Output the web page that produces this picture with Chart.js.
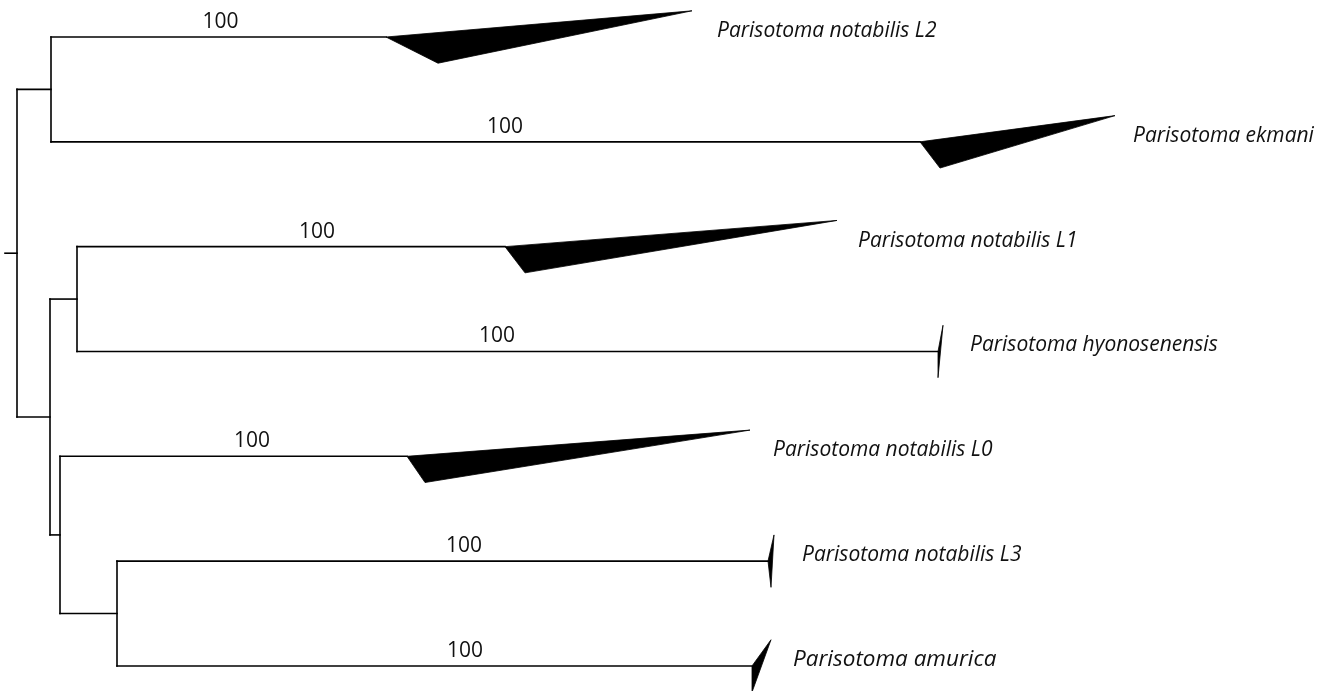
<!DOCTYPE html>
<html><head><meta charset="utf-8">
<script src="https://cdn.jsdelivr.net/npm/chart.js@4.4.1/dist/chart.umd.min.js"></script>
<style>html,body{margin:0;padding:0;background:#fff;}#wrap{width:1327px;height:691px;position:relative;}</style>
</head><body><div id="wrap"><canvas id="c"></canvas></div>
<script>
// ---- data: tips, listed top to bottom ----
const taxa = ['Parisotoma notabilis L2','Parisotoma ekmani','Parisotoma notabilis L1','Parisotoma hyonosenensis','Parisotoma notabilis L0','Parisotoma notabilis L3','Parisotoma amurica'];
const tipParent = ['A','A','C','C','D','E','E'];
const stemEnd  = [0.369,0.903,0.488,0.921,0.390,0.751,0.735]; // depth where the collapsed clade starts
const crownMin = [0.421,0.923,0.508,0.921,0.408,0.754,0.735]; // shallowest tip of the clade
const crownMax = [0.675,1.098,0.820,0.926,0.733,0.757,0.754]; // deepest tip of the clade
const support  = ['100','100','100','100','100','100','100'];
// ---- data: internal nodes ----
const nodeIds    = ['root','A','B','C','D','E'];
const nodeParent = [null,'root','root','B','B','D'];
const nodeDepth  = [0,0.034,0.033,0.060,0.043,0.100];
const rootStemStart = -0.012;

// ---- style / layout ----
const LINE = '#000';
const LW = 1.6;
const TRI_HALF = 0.25;           // half height of collapsed triangles, in rows
const labelGap   = [25,18,21,27,23,28,22];      // px after clade tip
const labelSize  = [21,21,21,21,21,21,22.5];
const supportNudge = [2,19.5,26,-10.5,18.5,21.5,30.5]; // px from branch middle

// ---- build tree geometry ----
const depthOf = {}; nodeIds.forEach((n,i)=>depthOf[n]=nodeDepth[i]);
const yOf = {};
function nodeY(id){
  if (yOf[id]!==undefined) return yOf[id];
  const ys = [];
  tipParent.forEach((p,i)=>{ if(p===id) ys.push(i); });
  nodeParent.forEach((p,i)=>{ if(p===id) ys.push(nodeY(nodeIds[i])); });
  const y = (Math.min(...ys)+Math.max(...ys))/2;
  yOf[id]=y; return y;
}
nodeIds.forEach(nodeY);

const lineDs = (pts)=>({type:'line',data:pts,borderColor:LINE,borderWidth:LW,pointRadius:0,fill:false,tension:0,clip:false,borderCapStyle:'square'});
const datasets = [];
datasets.push(lineDs([{x:rootStemStart,y:yOf.root},{x:0,y:yOf.root}]));
nodeIds.forEach((id,i)=>{
  const ys=[];
  tipParent.forEach((p,k)=>{ if(p===id) ys.push(k); });
  nodeParent.forEach((p,k)=>{ if(p===id) ys.push(yOf[nodeIds[k]]); });
  datasets.push(lineDs([{x:nodeDepth[i],y:Math.min(...ys)},{x:nodeDepth[i],y:Math.max(...ys)}]));
  if (nodeParent[i]) datasets.push(lineDs([{x:depthOf[nodeParent[i]],y:yOf[id]},{x:nodeDepth[i],y:yOf[id]}]));
});
taxa.forEach((t,i)=>{
  datasets.push(lineDs([{x:depthOf[tipParent[i]],y:i},{x:stemEnd[i],y:i}]));
});
taxa.forEach((t,i)=>{
  datasets.push({type:'scatter',polygon:true,data:[{x:stemEnd[i],y:i},{x:crownMax[i],y:i-TRI_HALF},{x:crownMin[i],y:i+TRI_HALF}],pointRadius:0,showLine:false,clip:false});
});

const polyPlugin = {
  id:'poly',
  afterDatasetsDraw(chart){
    const ctx=chart.ctx;
    chart.data.datasets.forEach((ds,i)=>{
      if(!ds.polygon) return;
      const pts=chart.getDatasetMeta(i).data;
      ctx.save();
      ctx.beginPath();
      pts.forEach((p,k)=>{ k?ctx.lineTo(p.x,p.y):ctx.moveTo(p.x,p.y); });
      ctx.closePath();
      ctx.fillStyle='#000'; ctx.fill();
      ctx.lineWidth=0.8; ctx.strokeStyle='#000'; ctx.lineJoin='miter'; ctx.stroke();
      ctx.restore();
    });
  }
};
const textPlugin = {
  id:'texts',
  afterDraw(chart){
    const ctx=chart.ctx, xs=chart.scales.x, ys=chart.scales.y;
    ctx.save();
    ctx.fillStyle='#111';
    taxa.forEach((t,i)=>{
      const y=ys.getPixelForValue(i);
      ctx.font='italic '+labelSize[i]+"px 'Open Sans'";
      ctx.textAlign='left'; ctx.textBaseline='alphabetic';
      ctx.fillText(t, xs.getPixelForValue(crownMax[i])+labelGap[i], y);
      ctx.font="21px 'Open Sans'";
      ctx.textAlign='center';
      const x0=xs.getPixelForValue(depthOf[tipParent[i]]), x1=xs.getPixelForValue(stemEnd[i]);
      ctx.fillText(support[i], (x0+x1)/2+supportNudge[i], y-9);
    });
    ctx.restore();
  }
};

new Chart(document.getElementById('c'),{
  type:'scatter',
  data:{datasets},
  options:{
    responsive:true, maintainAspectRatio:false, animation:false, events:[],
    layout:{padding:0},
    plugins:{legend:{display:false},tooltip:{enabled:false}},
    scales:{
      x:{type:'linear',min:-0.017,max:1.310,display:false},
      y:{type:'linear',min:-0.353,max:6.239,reverse:true,display:false}
    }
  },
  plugins:[polyPlugin,textPlugin]
});
</script></body></html>
